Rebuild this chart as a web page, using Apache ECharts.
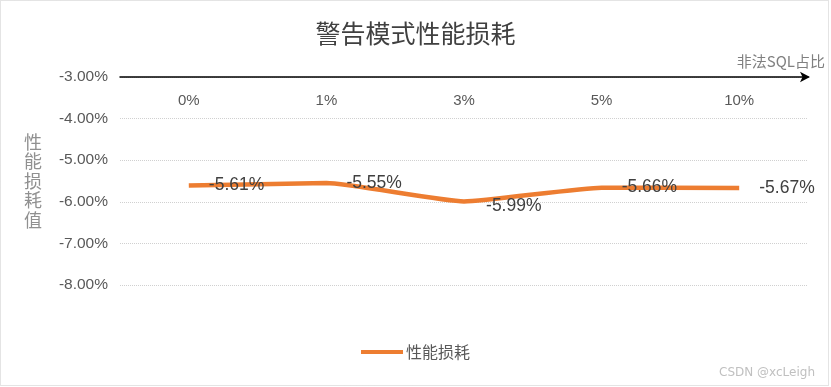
<!DOCTYPE html>
<html><head><meta charset="utf-8">
<script src="https://cdn.jsdelivr.net/npm/echarts@6/dist/echarts.min.js"></script>
<style>html,body{margin:0;padding:0;background:#fff}#c{width:831px;height:387px}</style>
</head><body><div id="c"></div>
<script>
const categories = ['0%', '1%', '3%', '5%', '10%'];
const lossValues = [-5.61, -5.55, -5.99, -5.66, -5.67];
const seriesName = '性能损耗';
const yMin = -8, yMax = -3, yInterval = 1;

const chart = echarts.init(document.getElementById('c'));
const font = '"Noto Sans CJK SC", "Liberation Sans", sans-serif';
chart.setOption({
  animation: false,
  backgroundColor: '#fff',
  title: {
    text: '警告模式性能损耗', left: 'center', top: 16,
    textStyle: { fontFamily: font, fontSize: 25, fontWeight: 'normal', color: '#404040' }
  },
  legend: {
    bottom: 22, left: 'center', icon: 'rect', itemWidth: 42, itemHeight: 4, itemGap: 4,
    textStyle: { fontFamily: font, fontSize: 16, color: '#595959', padding: [0,0,0,-2] },
    data: [seriesName]
  },
  grid: { left: 120, right: 23, top: 77, bottom: 102, containLabel: false },
  xAxis: {
    type: 'category', data: categories, position: 'top', boundaryGap: true,
    name: '非法SQL占比', nameLocation: 'end', nameGap: 17,
    nameTextStyle: { fontFamily: font, fontSize: 15, color: '#808080', align: 'right', verticalAlign: 'bottom', padding: [0,0,8,0] },
    axisLine: { show: true, symbol: ['none', 'arrow'], symbolSize: [8, 10], symbolOffset: [0, 2], lineStyle: { color: '#000', width: 1.5 } },
    axisTick: { show: false },
    axisLabel: { inside: true, margin: 16, fontFamily: '"Liberation Sans", sans-serif', fontSize: 15, color: '#595959' },
    splitLine: { show: false }
  },
  yAxis: {
    type: 'value', min: yMin, max: yMax, interval: yInterval,
    name: '性\n能\n损\n耗\n值', nameLocation: 'middle', nameGap: 78, nameRotate: 0,
    nameTextStyle: { fontFamily: font, fontSize: 18, lineHeight: 19.5, color: '#909090' },
    axisLine: { show: false }, axisTick: { show: false },
    axisLabel: { margin: 12, fontFamily: '"Liberation Sans", sans-serif', fontSize: 15.5, color: '#595959',
      formatter: v => v.toFixed(2) + '%' },
    splitLine: { show: true, lineStyle: { color: '#d0d0d0', type: 'dotted', width: 1 } }
  },
  series: [{
    name: seriesName, type: 'line', data: lossValues.map((v, i) => i === 2 ? { value: v, label: { offset: [2, 5] } } : v),
    smooth: 0.15, showSymbol: true, symbol: 'circle', symbolSize: 0.1,
    lineStyle: { color: '#ED7D31', width: 4.5 }, itemStyle: { color: '#ED7D31' },
    label: { show: true, position: 'right', distance: 20, fontFamily: '"Liberation Sans", sans-serif', fontSize: 17.5, color: '#404040',
      formatter: p => p.value.toFixed(2) + '%' },
    emphasis: { disabled: true }
  }],
  graphic: [
    { type: 'rect', shape: { x: 0.5, y: 0.5, width: 828, height: 385 }, style: { fill: 'none', stroke: '#c8c8c8', lineWidth: 1, lineDash: [1, 1] }, silent: true },
    { type: 'text', right: 16, bottom: 8, style: { text: 'CSDN @xcLeigh', fontFamily: '"DejaVu Sans", sans-serif', fontSize: 12, fill: '#c0c0c0' } }
  ]
});
</script></body></html>
